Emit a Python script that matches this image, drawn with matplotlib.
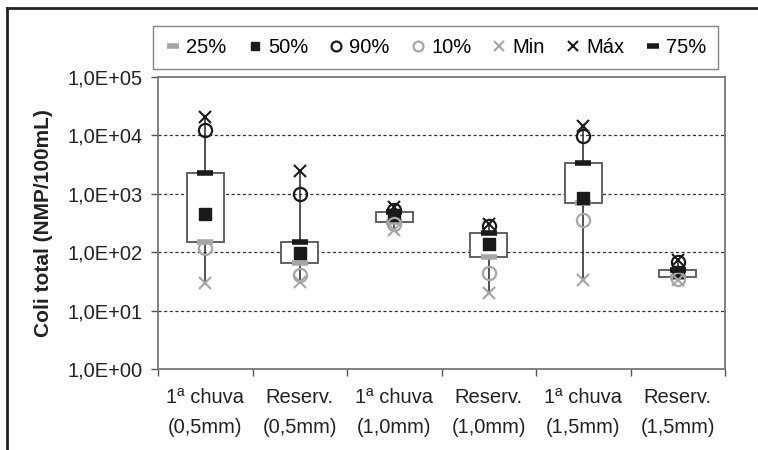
import numpy as np
import matplotlib
matplotlib.use("Agg")
import matplotlib.pyplot as plt
from matplotlib.ticker import FuncFormatter, FixedLocator
from matplotlib.lines import Line2D

plt.rcParams['font.family'] = ['Liberation Sans', 'DejaVu Sans']

# %%
categories = ['1ª chuva\n(0,5mm)', 'Reserv.\n(0,5mm)', '1ª chuva\n(1,0mm)',
              'Reserv.\n(1,0mm)', '1ª chuva\n(1,5mm)', 'Reserv.\n(1,5mm)']

p_min = [30, 31, 240, 20, 33, 33]
p10 = [117, 40, 300, 44, 355, 35]
p25 = [150, 65, 330, 83, 700, 37]
p50 = [450, 96, 435, 137, 850, 45]
p75 = [2300, 150, 490, 210, 3400, 49]
p90 = [12500, 1000, 520, 280, 9800, 67]
p_max = [21000, 2500, 600, 300, 14500, 73]

GREY = '#a6a6a6'
BLACK = '#1a1a1a'

# %%
fig = plt.figure(figsize=(7.58, 4.5), dpi=100)
ax = fig.add_axes([158 / 758, 1 - 369 / 450, 567 / 758, 292 / 450])

x = np.arange(len(categories))

ax.vlines(x, p_min, p_max, color='#333333', lw=1.2, zorder=1)
ax.bar(x, np.array(p75) - np.array(p25), bottom=p25, width=0.39,
       facecolor='white', edgecolor='#555555', linewidth=1.3, zorder=2)

h25, = ax.plot(x, p25, ls='none', marker='_', ms=12, mew=4, color=GREY, label='25%', zorder=3)
h50, = ax.plot(x, p50, ls='none', marker='s', ms=8.5, color=BLACK, label='50%', zorder=3)
h90, = ax.plot(x, p90, ls='none', marker='o', ms=9.5, mew=1.6, mfc='none', mec=BLACK, label='90%', zorder=3)
h10, = ax.plot(x, p10, ls='none', marker='o', ms=9.5, mew=1.6, mfc='none', mec=GREY, label='10%', zorder=3)
hmin, = ax.plot(x, p_min, ls='none', marker='x', ms=9, mew=1.5, color=GREY, label='Min', zorder=3)
hmax, = ax.plot(x, p_max, ls='none', marker='x', ms=9, mew=1.5, color=BLACK, label='Máx', zorder=3)
h75, = ax.plot(x, p75, ls='none', marker='_', ms=12, mew=4, color=BLACK, label='75%', zorder=3)

ax.set_yscale('log')
ax.set_ylim(1, 1e5)
ax.set_xlim(-0.5, len(categories) - 0.5)

ax.yaxis.set_major_locator(FixedLocator([1, 1e1, 1e2, 1e3, 1e4, 1e5]))
ax.yaxis.set_minor_locator(FixedLocator([]))
ax.yaxis.set_major_formatter(FuncFormatter(lambda v, p: ('%.1E' % v).replace('.', ',')))
ax.tick_params(axis='y', which='major', length=5, width=1, color='#555555',
               labelsize=14.5, pad=6, colors='#222222')
for v in [1e1, 1e2, 1e3, 1e4]:
    ax.axhline(v, color='#333333', lw=0.9, ls=(0, (2.5, 2)), zorder=0)

ax.set_xticks(x)
ax.set_xticklabels(categories, fontsize=14.5, linespacing=1.7, color='#222222')
ax.set_xticks(np.arange(-0.5, len(categories)), minor=True)
ax.tick_params(axis='x', which='major', length=0, pad=14)
ax.tick_params(axis='x', which='minor', length=5, width=1, color='#555555')

for s in ax.spines.values():
    s.set_color('#777777')
    s.set_linewidth(1.3)

ax.set_ylabel('Coli total (NMP/100mL)', fontsize=15, fontweight='bold', color='#222222')
ax.yaxis.set_label_coords(-0.185, 0.5)

leg = fig.legend(handles=[h25, h50, h90, h10, hmin, hmax, h75], loc='center',
                 bbox_to_anchor=(435.5 / 758, 1 - 47.5 / 450), ncol=7, fontsize=14.5,
                 frameon=True, fancybox=False, edgecolor='#666666', markerscale=0.75,
                 handlelength=0.8, handletextpad=0.25, columnspacing=1.0,
                 borderpad=0.6)
leg.get_frame().set_linewidth(1.0)

# outer frame of the figure (top and left edges)
fig.add_artist(Line2D([7 / 758, 1], [1 - 8 / 450, 1 - 8 / 450], color='#222222', lw=2))
fig.add_artist(Line2D([7 / 758, 7 / 758], [0, 1 - 8 / 450], color='#222222', lw=2))

fig.savefig('out.png', dpi=100)
